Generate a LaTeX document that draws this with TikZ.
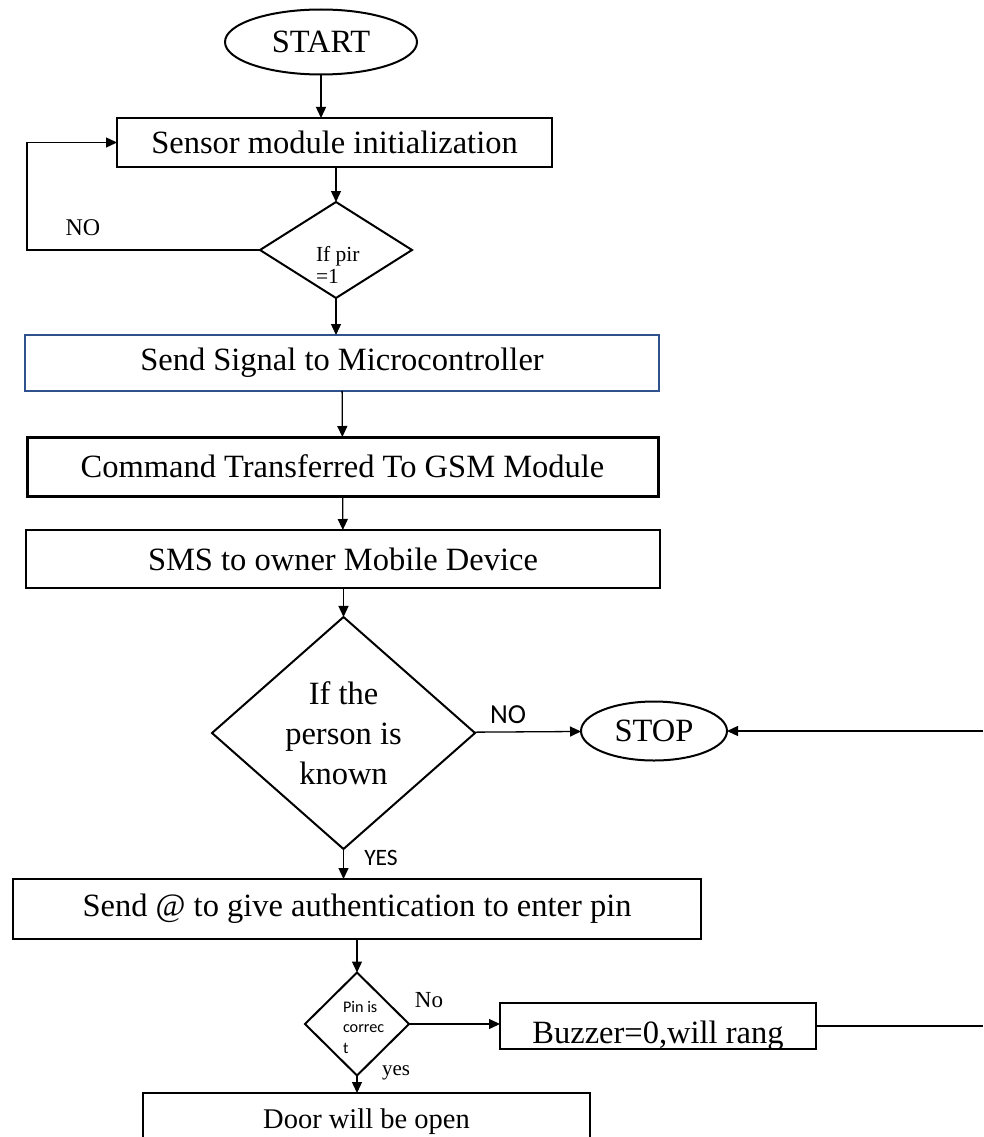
\documentclass[tikz,border=0pt]{standalone}
\usepackage{fontspec}
\setmainfont{Liberation Serif}
\newfontfamily\calib{Carlito}
\usetikzlibrary{arrows.meta,positioning,shapes.geometric}
\definecolor{sigblue}{RGB}{47,82,143}

\begin{document}
\begin{tikzpicture}[x=1pt,y=-1pt,
  every node/.style={inner sep=0pt,outer sep=0pt},
  bigtxt/.style={font=\fontsize{32.5}{40}\selectfont},
  procbox/.style={draw,rectangle,line width=2pt,bigtxt},
  termnode/.style={draw,ellipse,line width=2pt,bigtxt},
  decide/.style={draw,diamond,line width=2pt},
  flow/.style={-{Triangle[length=11pt,width=10pt]},line width=1.3pt},
  ]
  \useasboundingbox (0,0) rectangle (983,1137);
  \clip (0,0) rectangle (983,1137);

  \node[termnode,minimum width=192pt,minimum height=65pt] (start) at (321,42) {START};
  \node[procbox,minimum width=435pt,minimum height=49pt] (sensor) at (334.5,142.5) {Sensor module initialization};
  \node[decide,minimum width=152pt,minimum height=96pt] (pir) at (336,250) {};
  \node[align=left,anchor=west,font=\fontsize{21.5}{22.5}\selectfont] (pirtxt) at (316,265) {If pir\\=1};
  \coordinate (loopc) at (27,250);
  \node[font=\fontsize{24}{28}\selectfont] (nopir) at (83,228) {NO};

  \node[procbox,draw=sigblue,minimum width=634pt,minimum height=56pt] (signal) at (342,363) {Send Signal to Microcontroller};
  \node[procbox,line width=3pt,minimum width=631pt,minimum height=59pt] (cmd) at (342.5,466.5) {Command Transferred To GSM Module};
  \node[procbox,minimum width=634pt,minimum height=58pt] (sms) at (343,559) {SMS to owner Mobile Device};

  \node[decide,bigtxt,align=center,minimum width=263pt,minimum height=232pt] (know) at (343.5,733) {If the\\person is\\known};
  \node[termnode,minimum width=146pt,minimum height=59pt] (stop) at (654,731) {STOP};
  \coordinate (rin) at (983,731);
  \node[font=\calib\fontsize{27.5}{30}\selectfont] (noknow) at (508,715) {NO};
  \node[font=\calib\fontsize{23.5}{26}\selectfont] (yesknow) at (381,858) {YES};

  \node[procbox,minimum width=688pt,minimum height=60pt] (auth) at (357,909) {Send @ to give authentication to enter pin};

  \node[decide,minimum width=104pt,minimum height=103pt] (pin) at (357,1024) {};
  \node[align=left,anchor=west,font=\calib\fontsize{16.2}{20.5}\selectfont] (pintxt) at (343,1027) {Pin is\\correc\\t};
  \node[font=\fontsize{23}{26}\selectfont] (nopin) at (429,1000) {No};
  \node[font=\fontsize{21}{24}\selectfont] (yespin) at (396,1073) {yes};

  \node[procbox,minimum width=316pt,minimum height=46pt] (buzz) at (658,1026) {};
  \node[bigtxt] (buzztxt) at (658,1036) {Buzzer=0,will rang};
  \coordinate (rout) at (983,1026);

  \node[procbox,font=\fontsize{28.5}{34}\selectfont,minimum width=447pt,minimum height=58pt] (door) at (366.5,1122) {Door will be open};

  \draw[flow] (start) -- (start |- sensor.north);
  \draw[flow] (sensor.south -| pir) -- (pir);
  \draw[flow] (pir.west) -- (loopc) |- (sensor.west);
  \draw[flow] (pir) -- (pir |- signal.north);
  \draw[flow] (signal) -- (cmd);
  \draw[flow] (cmd) -- (sms);
  \draw[flow] (sms.south -| know) -- (know);
  \draw[flow] (know) -- (stop);
  \draw[flow] (rin) -- (stop);
  \draw[flow] (know) -- (know |- auth.north);
  \draw[flow] (auth.south -| pin) -- (pin);
  \draw[flow] (pin.east) -- (pin.east -| buzz.west);
  \draw[line width=1.3pt] (buzz) -- (rout);
  \draw[flow] (pin) -- (pin |- door.north);
\end{tikzpicture}
\end{document}
